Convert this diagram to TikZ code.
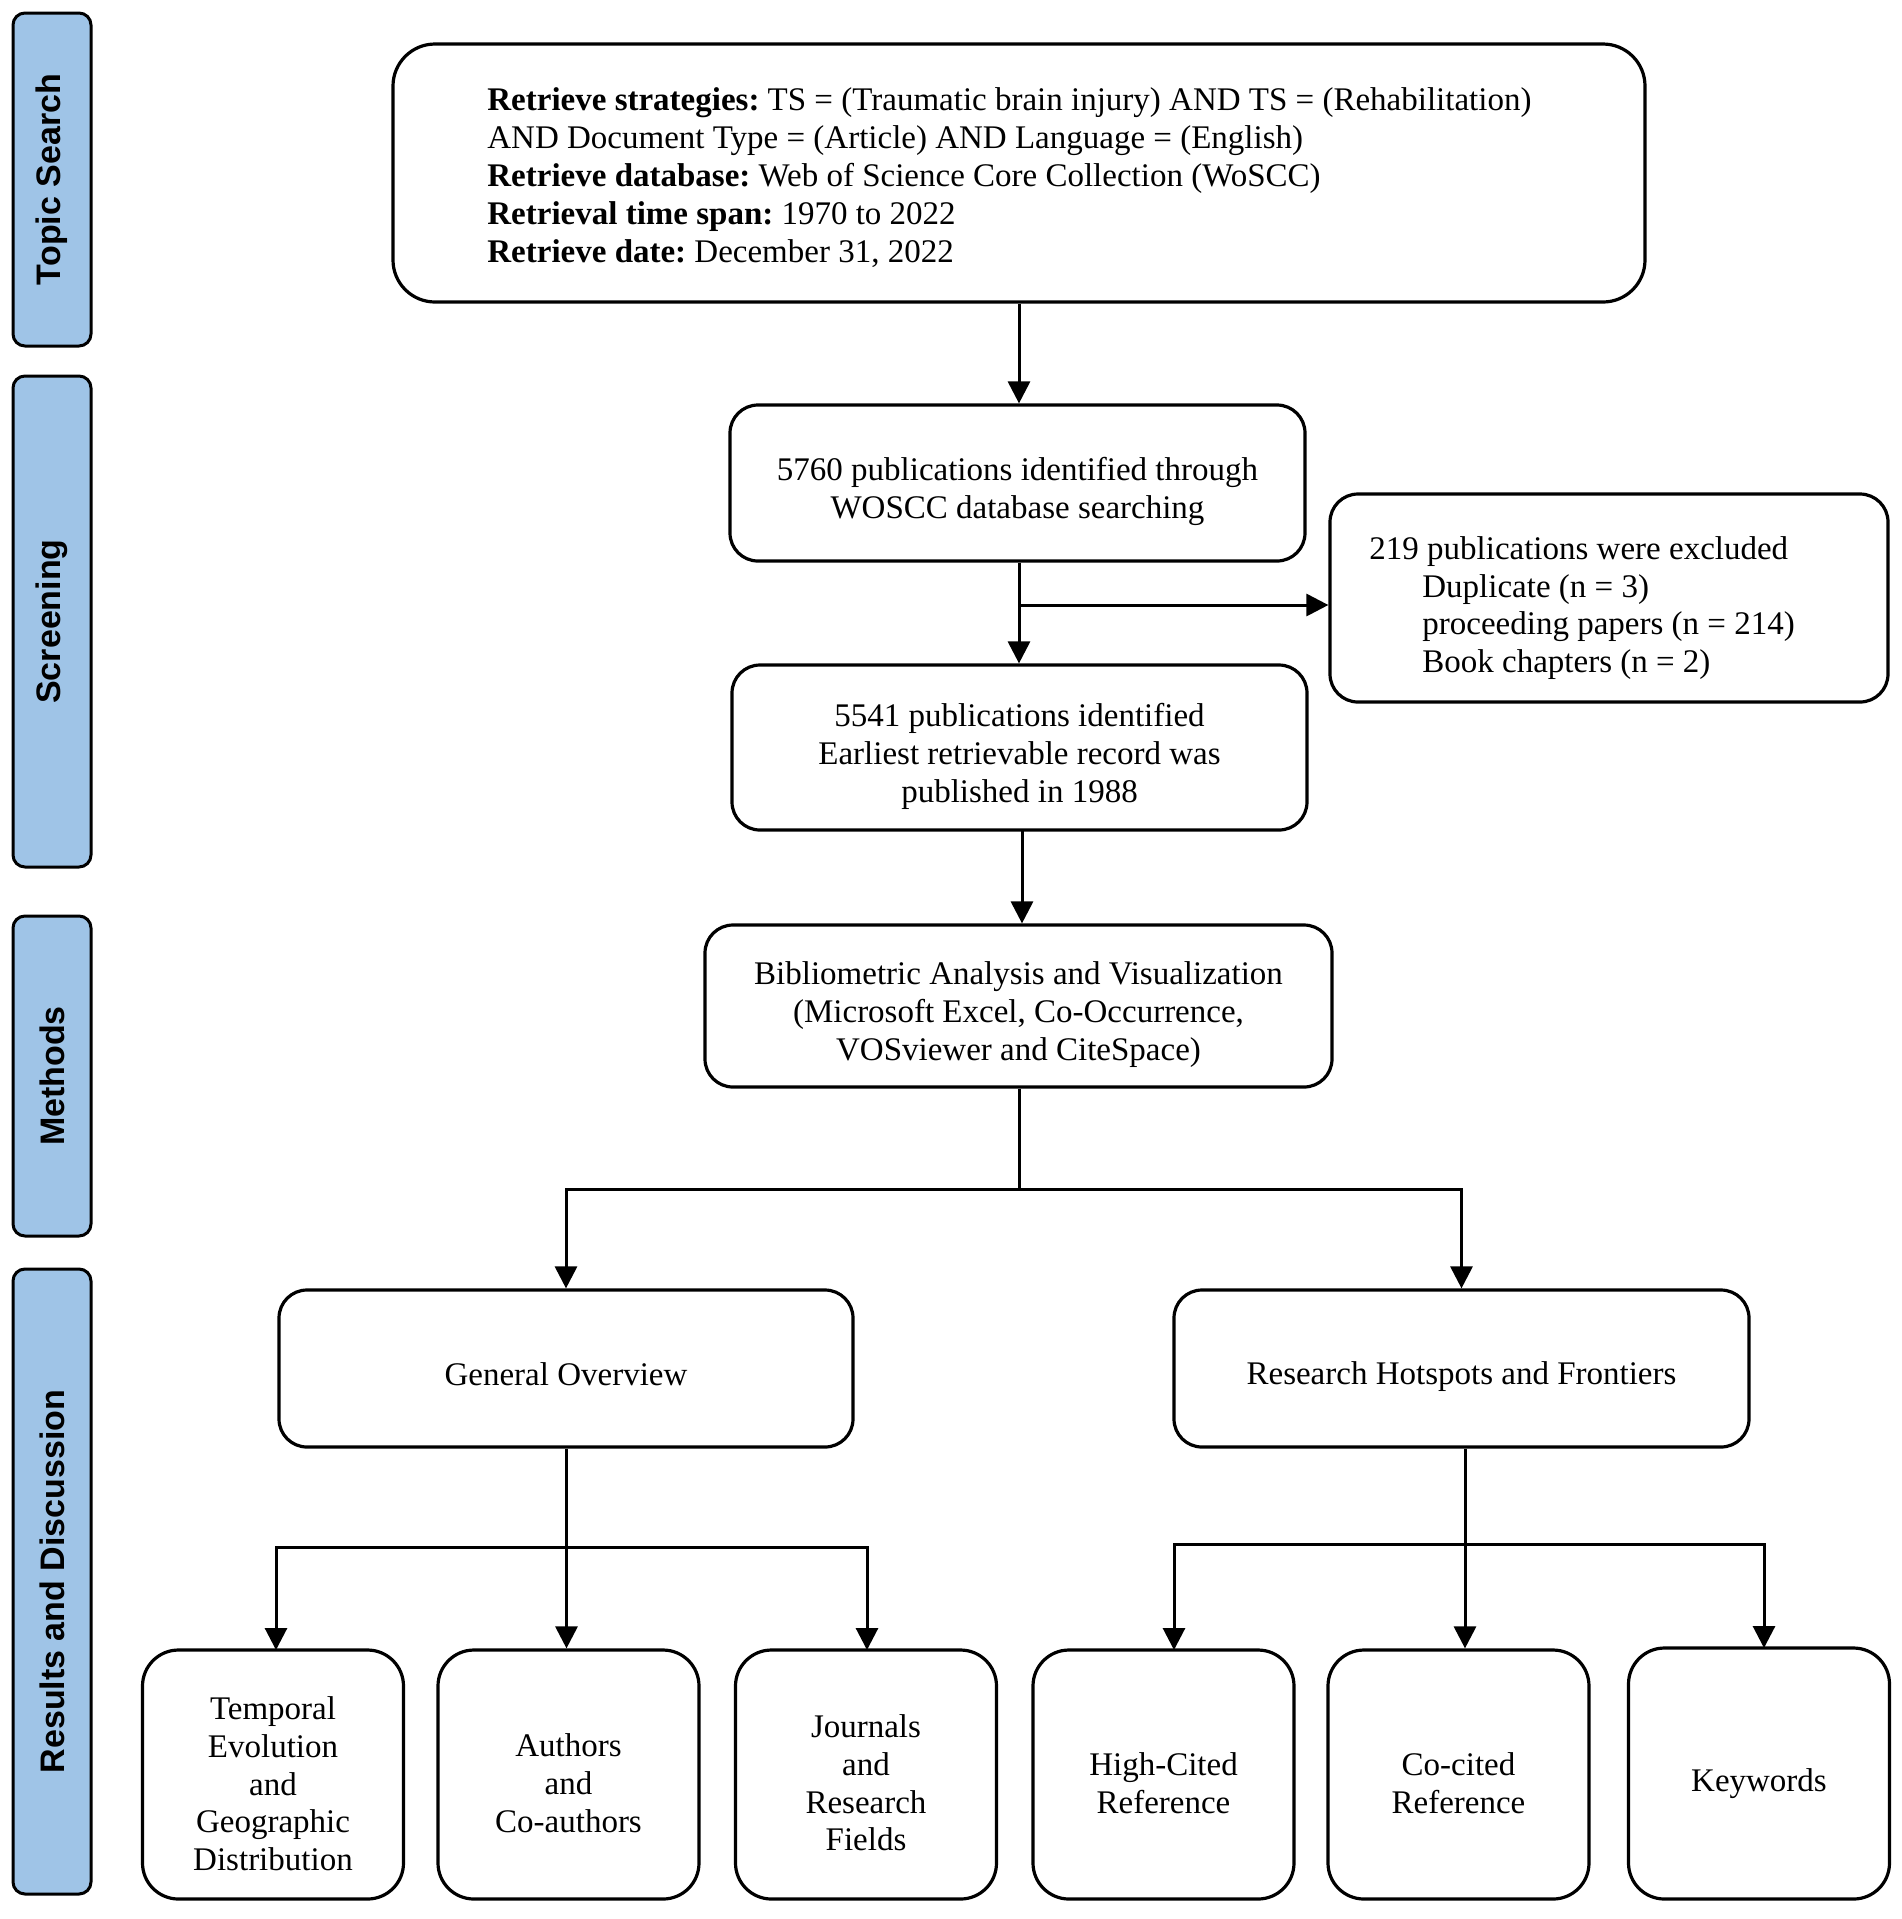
\documentclass[tikz,border=0pt]{standalone}
\usepackage{fontspec}
\setmainfont{Liberation Serif}
\newfontfamily\sidefont{Liberation Sans}
\usetikzlibrary{arrows.meta,calc}
\definecolor{sideblue}{RGB}{159,196,231}
\newcommand{\fs}{\fontsize{16.5}{18.9}\selectfont\frenchspacing}
\tikzset{
  box/.style={draw, line width=1.6pt, rounded corners=14pt, inner sep=0pt},
  txt/.style={align=center, inner sep=0pt, font=\fs},
  sidebox/.style={draw, line width=1.5pt, rounded corners=6pt, fill=sideblue, inner sep=0pt,
     minimum height=39pt, rotate=90, font=\sidefont\bfseries\fontsize{17}{19}\selectfont},
  arr/.style={line width=1.5pt, -{Triangle[length=11pt,width=11pt]}},
  ln/.style={line width=1.5pt},
  bot/.style={box, rounded corners=18pt, minimum width=130.5pt, minimum height=124.5pt},
}
\begin{document}
\begin{tikzpicture}[x=0.5pt,y=-0.5pt]
\useasboundingbox (0,0) rectangle (1902,1919);
% sidebars
\node[sidebox, minimum width=166.5pt] (s1) at (52,179.5) {Topic Search};
\node[sidebox, minimum width=245.5pt] (s2) at (52,621.5) {Screening};
\node[sidebox, minimum width=160pt] (s3) at (52,1076) {Methods};
\node[sidebox, minimum width=312.5pt] (s4) at (52,1581.5) {Results and Discussion};
% main boxes
\node[box, rounded corners=21pt, minimum width=626pt, minimum height=129pt] (top) at (1019,173) {};
\node[txt, align=left, anchor=west] (topt) at (487,177.5) {%
\textbf{Retrieve strategies:} TS = (Traumatic brain injury) AND TS = (Rehabilitation)\\
AND Document Type = (Article) AND Language = (English)\\
\textbf{Retrieve database:} Web of Science Core Collection (WoSCC)\\
\textbf{Retrieval time span:} 1970 to 2022\\
\textbf{Retrieve date:} December 31, 2022};
\node[box, minimum width=287.5pt, minimum height=78pt] (b2) at (1017.5,483) {};
\node[txt, yshift=-4.4pt] (b2t) at (b2) {5760 publications identified through\\WOSCC database searching};
\node[box, minimum width=279pt, minimum height=104pt] (ex) at (1609,598) {};
\node[txt, anchor=west, align=left] (ext) at (1369,608) {219 publications were excluded\\
\hspace*{26.5pt}Duplicate (n = 3)\\
\hspace*{26.5pt}proceeding papers (n = 214)\\
\hspace*{26.5pt}Book chapters (n = 2)};
\node[box, minimum width=287.5pt, minimum height=82.5pt] (b3) at (1019.5,747.5) {};
\node[txt, yshift=-4.4pt] (b3t) at (b3) {5541 publications identified\\Earliest retrievable record was\\published in 1988};
\node[box, minimum width=313.5pt, minimum height=81pt] (b4) at (1018.5,1006) {};
\node[txt, yshift=-4.2pt] (b4t) at (b4) {Bibliometric Analysis and Visualization\\(Microsoft Excel, Co-Occurrence,\\VOSviewer and CiteSpace)};
\node[box, minimum width=287pt, minimum height=78.5pt] (go) at (566,1368.5) {};
\node[txt, yshift=-3pt] (got) at (go) {General Overview};
\node[box, minimum width=287.5pt, minimum height=78.5pt] (rh) at (1461.5,1368.5) {};
\node[txt, yshift=-4.2pt] (rht) at (rh) {Research Hotspots and Frontiers};
% bottom row
\node[bot] (a) at (273,1774.5) {};
\node[txt, yshift=-4.6pt] (at) at (a) {Temporal\\Evolution\\and\\Geographic\\Distribution};
\node[bot] (b) at (568.5,1774.5) {};
\node[txt, yshift=-4.2pt] (bt) at (b) {Authors\\and\\Co-authors};
\node[bot] (c) at (866,1774.5) {};
\node[txt, yshift=-4.2pt] (ct) at (c) {Journals\\and\\Research\\Fields};
\node[bot] (d) at (1163.5,1774.5) {};
\node[txt, yshift=-4.2pt] (dt) at (d) {High-Cited\\Reference};
\node[bot] (e) at (1458.5,1774.5) {};
\node[txt, yshift=-4.2pt] (et) at (e) {Co-cited\\Reference};
\node[bot, minimum height=125.5pt] (f) at (1759,1773.5) {};
\node[txt, yshift=-5pt] (ft) at (f) {Keywords};
% connectors
\draw[arr] (top.south) -- (top.south |- b2.north);
\coordinate (br) at (1019,605);
\draw[arr] (b2.south -| br) -- (br |- b3.north);
\draw[arr] (br) -- (br -| ex.west);
\coordinate (b3s) at (1022,830);
\draw[arr] (b3s) -- (b3s |- b4.north);
% methods split
\coordinate (m1) at (1019.5,1189);
\draw[ln] (b4.south -| m1) -- (m1);
\draw[arr] (m1) -| (go.north);
\draw[arr] (m1) -| (rh.north);
% general overview split
\coordinate (g1) at (566.5,1547);
\coordinate (ga) at (276,1650);
\coordinate (gc) at (867,1650);
\draw[ln] (go.south -| g1) -- (g1);
\draw[arr] (g1) -| (ga);
\draw[arr] (g1) -- (g1 |- b.north);
\draw[arr] (g1) -| (gc);
% research split
\coordinate (r1) at (1465,1544);
\coordinate (rd) at (1174,1650);
\coordinate (rf) at (1764,1648);
\draw[ln] (rh.south -| r1) -- (r1);
\draw[arr] (r1) -| (rd);
\draw[arr] (r1) -- (r1 |- e.north);
\draw[arr] (r1) -| (rf);
\end{tikzpicture}
\end{document}
